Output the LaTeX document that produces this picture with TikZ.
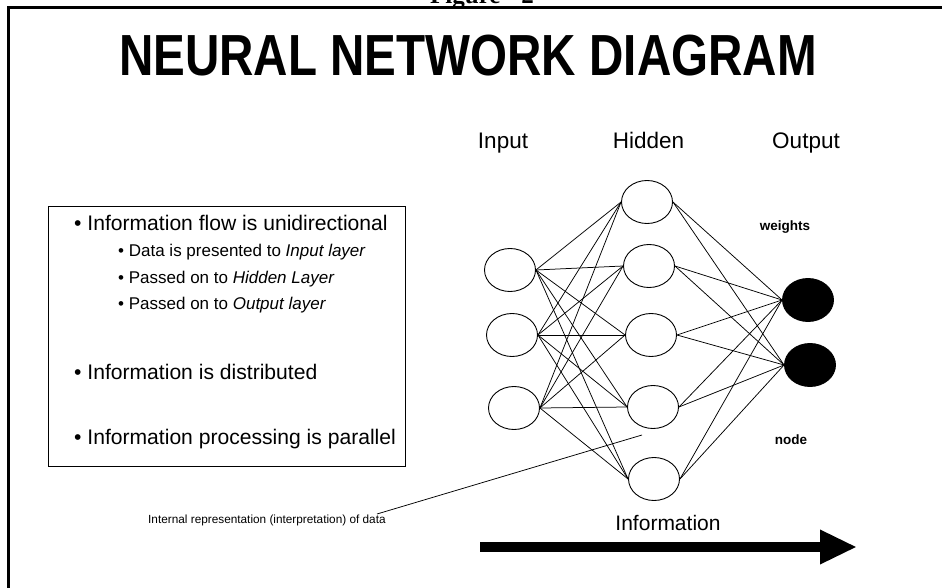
\documentclass[tikz,border=0pt]{standalone}
\usepackage{fontspec}
\setmainfont{Liberation Sans}
\newfontfamily\serifbold{Liberation Serif}
\usetikzlibrary{shapes.geometric,arrows.meta}
\begin{document}
\begin{tikzpicture}[x=1pt,y=-1pt,
  neuron/.style={ellipse, draw, line width=0.9pt, minimum width=51pt, minimum height=43pt, inner sep=0pt, fill=white},
  outneuron/.style={neuron, fill=black},
  wire/.style={line width=0.75pt},
  txt/.style={inner sep=0pt, anchor=base west},
  hdr/.style={inner sep=0pt, anchor=base, font=\fontsize{22.5}{26}\selectfont},
  mainb/.style={txt, font=\fontsize{21.1}{25}\selectfont},
  subb/.style={txt, font=\fontsize{17}{20}\selectfont},
  small/.style={inner sep=0pt, anchor=base, font=\fontsize{13.5}{16}\selectfont\bfseries}
]
\useasboundingbox (0,0) rectangle (942,588);
\clip (0,0) rectangle (942,588);
% frame
\draw[line width=2.2pt] (8.5,620) -- (8.5,7.5) -- (960,7.5);
\node[inner sep=0pt, anchor=base] (fig) at (482,3.5) {\fontsize{25}{30}\serifbold\bfseries Figure - 2};
% title
\node[inner sep=0pt, anchor=base] (title) at (468,76) {\scalebox{0.82}[1]{\fontsize{58}{60}\selectfont\bfseries NEURAL NETWORK DIAGRAM}};
% headers
\node[hdr] (hin) at (503,149) {Input};
\node[hdr] (hhid) at (648.5,149) {Hidden};
\node[hdr] (hout) at (806,149) {Output};
% text box
\node[draw, line width=0.8pt, minimum width=357pt, minimum height=260pt, anchor=north west, inner sep=0pt] (box) at (48,206) {};
\node[mainb] (b1) at (74,230) {\textbullet\ Information flow is unidirectional};
\node[subb] (s1) at (118,256) {\textbullet\ Data is presented to \textit{Input layer}};
\node[subb] (s2) at (118,283) {\textbullet\ Passed on to \textit{Hidden Layer}};
\node[subb] (s3) at (118,309) {\textbullet\ Passed on to \textit{Output layer}};
\node[mainb] (b2) at (74,379) {\textbullet\ Information is distributed};
\node[mainb] (b3) at (74,444) {\textbullet\ Information processing is parallel};
% network nodes
\node[neuron] (i1) at (510,270) {};
\node[neuron] (i2) at (512,335) {};
\node[neuron] (i3) at (514,408) {};
\node[neuron] (h1) at (647,202) {};
\node[neuron] (h2) at (649,266) {};
\node[neuron] (h3) at (651,335) {};
\node[neuron] (h4) at (653,407) {};
\node[neuron] (h5) at (654,479) {};
\node[outneuron] (o1) at (808,300) {};
\node[outneuron] (o2) at (810,365) {};
% connections
\foreach \i in {i1,i2,i3}{
  \foreach \h in {h1,h2,h3,h4,h5}{
    \draw[wire] (\i.east) -- (\h.west);
  }
}
\foreach \h in {h1,h2,h3,h4,h5}{
  \foreach \o in {o1,o2}{
    \draw[wire] (\h.east) -- (\o.west);
  }
}
% labels
\node[small] (wts) at (785,230) {weights};
\node[small] (nd) at (791,444) {node};
% internal representation
\node[txt, font=\fontsize{11.8}{14}\selectfont] (intl) at (148,523) {Internal representation (interpretation) of data};
\coordinate (leadS) at (377,514);
\coordinate (leadE) at (642,435);
\draw[wire] (leadS) -- (leadE);
% information arrow
\node[inner sep=0pt, anchor=base, font=\fontsize{21}{25}\selectfont] (info) at (668,530) {Information};
\coordinate (arrS) at (480,547);
\coordinate (arrE) at (857,547);
\draw[line width=10pt, -{Triangle[length=37pt,width=32pt]}] (arrS) -- (arrE);
\end{tikzpicture}
\end{document}
